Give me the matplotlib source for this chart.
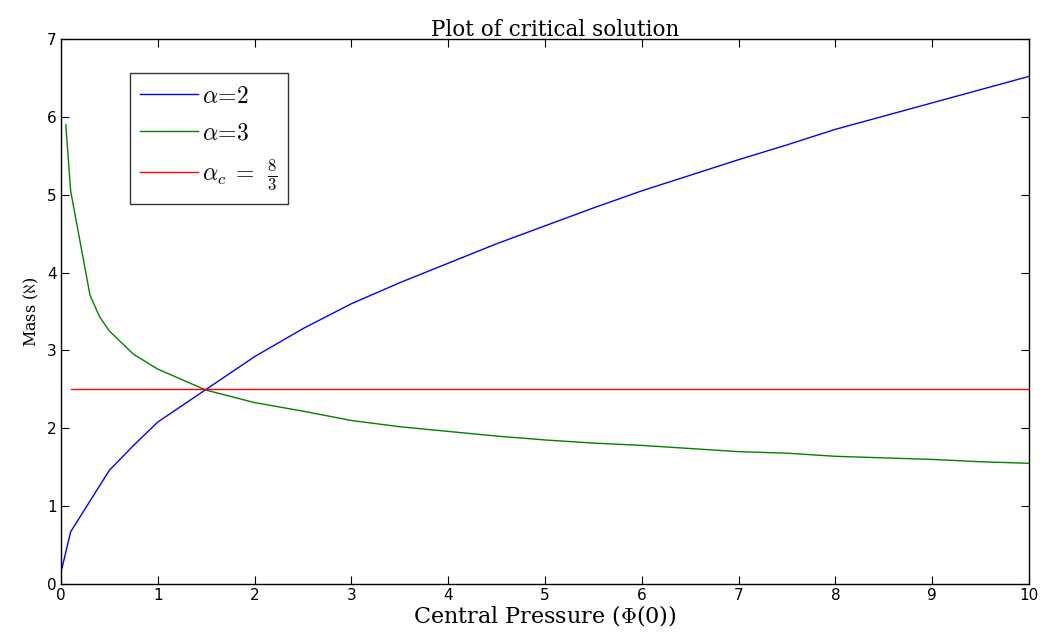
import matplotlib.pyplot as plt

# central pressure / mass samples
phi_a2 = [0.01, 0.1, 0.5, 0.75, 1, 1.5, 2, 2.5, 3, 3.5, 4, 4.5, 5, 5.5,
          6, 6.5, 7, 7.5, 8, 8.5, 9, 9.5, 10]
mass_a2 = [0.2, 0.67, 1.46, 1.78, 2.08, 2.5, 2.92, 3.28, 3.6, 3.87, 4.12, 4.37,
           4.6, 4.83, 5.05, 5.25, 5.45, 5.64, 5.84, 6.01, 6.18, 6.35, 6.52]

phi_a3 = [0.05, 0.1, 0.3, 0.4, 0.5, 0.75, 1, 1.5, 2, 2.5, 3, 3.5, 4, 4.5,
          5, 5.5, 6, 6.5, 7, 7.5, 8, 8.5, 9, 9.5, 10]
mass_a3 = [5.9, 5.05, 3.71, 3.43, 3.25, 2.95, 2.76, 2.49, 2.33, 2.22, 2.1, 2.02,
           1.96, 1.9, 1.85, 1.81, 1.78, 1.74, 1.7, 1.68, 1.64, 1.62, 1.6, 1.57, 1.55]

phi_crit = [0.1, 10]
mass_crit = [2.5, 2.5]

plt.rcParams['mathtext.fontset'] = 'cm'
serif = 'DejaVu Serif'

fig = plt.figure(figsize=(10.42, 6.44), dpi=100)
ax = fig.add_axes([0.0585, 0.0932, 0.929, 0.8462])

ax.plot(phi_a2, mass_a2, color=(0, 0, 1), lw=1, label=r'$\alpha\!=\!2$')
ax.plot(phi_a3, mass_a3, color=(0, 0.5, 0), lw=1, label=r'$\alpha\!=\!3$')
ax.plot(phi_crit, mass_crit, color=(1, 0, 0), lw=1,
        label=r'$\alpha_{c}\;=\;\,\frac{8}{3}$')

ax.set_xlim(0, 10)
ax.set_ylim(0, 7)
ax.set_xticks(range(0, 11))
ax.set_yticks(range(0, 8))
ax.tick_params(direction='in', top=True, right=True, length=6,
               labelsize=11, pad=3)
for s in ax.spines.values():
    s.set_linewidth(1)

ax.set_title('Plot of critical solution', fontsize=15.5, family=serif, pad=2, x=0.511)
ax.set_xlabel(r'Central Pressure ($\Phi$(0))', fontsize=16, family=serif, labelpad=0)
ax.set_ylabel(r'Mass ($\aleph$)', fontsize=11.5, family=serif, labelpad=4)

leg = ax.legend(loc='upper left', bbox_to_anchor=(0.071, 0.9376),
                borderaxespad=0, fancybox=False, fontsize=17,
                handlelength=2.45, labelspacing=0.55, handletextpad=0.15,
                borderpad=0.45)
leg.get_frame().set_edgecolor('black')
leg.get_frame().set_linewidth(1)

fig.savefig('out.png', dpi=100)
